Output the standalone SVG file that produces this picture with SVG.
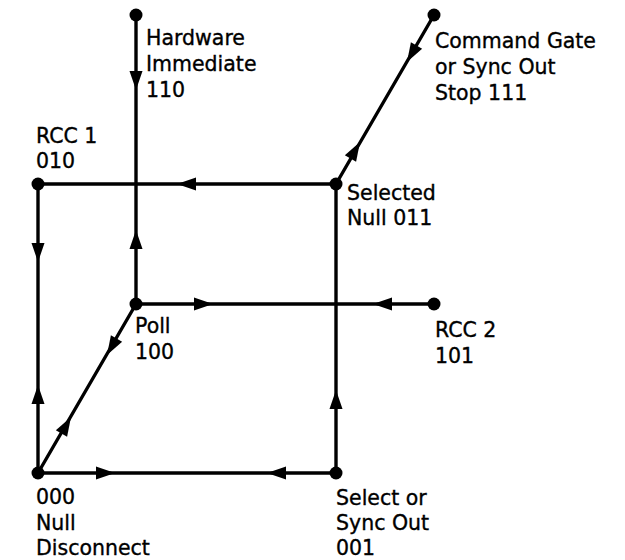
<svg xmlns="http://www.w3.org/2000/svg" width="625" height="560" viewBox="0 0 625 560">
<style>
.ln{stroke:#000;stroke-width:3.4;fill:none;stroke-linecap:round}
.dot{fill:#000}
.ah{fill:#000}
text{font-family:"DejaVu Sans","Liberation Sans",sans-serif;font-size:20.5px;fill:#000;stroke:#000;stroke-width:0.35}
</style>
<defs>
<path id="ah" d="M0,0 L-19,-6.5 L-19,6.5 Z"/>
</defs>
<rect width="625" height="560" fill="#fff"/>
<g id="connectors">
<line class="ln" x1="136" y1="15" x2="136" y2="304"/>
<line class="ln" x1="38" y1="184" x2="336" y2="184"/>
<line class="ln" x1="38" y1="184" x2="38" y2="473"/>
<line class="ln" x1="136" y1="304" x2="434" y2="304"/>
<line class="ln" x1="38" y1="473" x2="336" y2="473"/>
<line class="ln" x1="336" y1="184" x2="336" y2="473"/>
<line class="ln" x1="336" y1="184" x2="434" y2="15"/>
<line class="ln" x1="38" y1="473" x2="136" y2="304"/>
<use href="#ah" class="ah" transform="translate(136,90) rotate(90)"/>
<use href="#ah" class="ah" transform="translate(136,230) rotate(-90)"/>
<use href="#ah" class="ah" transform="translate(177,184) rotate(180)"/>
<use href="#ah" class="ah" transform="translate(38,262) rotate(90)"/>
<use href="#ah" class="ah" transform="translate(213,304)"/>
<use href="#ah" class="ah" transform="translate(373,304) rotate(180)"/>
<use href="#ah" class="ah" transform="translate(107,355) rotate(120.1)"/>
<use href="#ah" class="ah" transform="translate(71,417) rotate(-59.9)"/>
<use href="#ah" class="ah" transform="translate(38,385) rotate(-90)"/>
<use href="#ah" class="ah" transform="translate(115,473)"/>
<use href="#ah" class="ah" transform="translate(267,473) rotate(180)"/>
<use href="#ah" class="ah" transform="translate(336,390) rotate(-90)"/>
<use href="#ah" class="ah" transform="translate(360,142) rotate(-59.9)"/>
<use href="#ah" class="ah" transform="translate(407,62) rotate(120.1)"/>
</g>
<g id="node-110">
<circle class="dot" cx="136" cy="15" r="6.5"/>
<text x="146" y="45">Hardware</text>
<text x="146" y="71">Immediate</text>
<text x="146" y="97">110</text>
</g>
<g id="node-111">
<circle class="dot" cx="434" cy="15" r="6.5"/>
<text x="435" y="48">Command Gate</text>
<text x="435" y="74">or Sync Out</text>
<text x="435" y="100">Stop 111</text>
</g>
<g id="node-010">
<circle class="dot" cx="38" cy="184" r="6.5"/>
<text x="36" y="143">RCC 1</text>
<text x="36" y="168">010</text>
</g>
<g id="node-011">
<circle class="dot" cx="336" cy="184" r="6.5"/>
<text x="347" y="200">Selected</text>
<text x="347" y="225">Null 011</text>
</g>
<g id="node-100">
<circle class="dot" cx="136" cy="304" r="6.5"/>
<text x="135" y="333">Poll</text>
<text x="135" y="359">100</text>
</g>
<g id="node-101">
<circle class="dot" cx="434" cy="304" r="6.5"/>
<text x="435" y="337">RCC 2</text>
<text x="435" y="363">101</text>
</g>
<g id="node-000">
<circle class="dot" cx="38" cy="473" r="6.5"/>
<text x="36" y="504">000</text>
<text x="36" y="530">Null</text>
<text x="36" y="555">Disconnect</text>
</g>
<g id="node-001">
<circle class="dot" cx="336" cy="473" r="6.5"/>
<text x="336" y="505">Select or</text>
<text x="336" y="530">Sync Out</text>
<text x="336" y="555">001</text>
</g>
</svg>
